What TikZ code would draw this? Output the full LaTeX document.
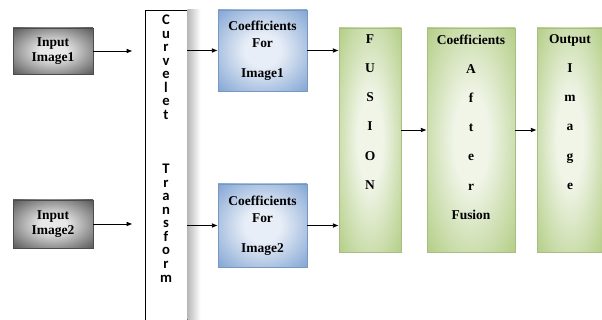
\documentclass[tikz,border=0pt]{standalone}
\usepackage{fontspec}
\setmainfont{Liberation Serif}[BoldFont={Liberation Serif Bold}]
\newfontfamily\boxfont{Liberation Serif Bold}
\newfontfamily\calfont{Carlito Bold}
\usetikzlibrary{arrows.meta,shadows}
\newcommand\pxl{0.03cm}
\definecolor{inedge}{RGB}{95,95,95}
\definecolor{inmid}{RGB}{232,232,232}
\definecolor{bluedge}{RGB}{120,158,208}
\definecolor{bluemid}{RGB}{232,238,247}
\definecolor{greenedge}{RGB}{178,205,132}
\definecolor{greenmid}{RGB}{240,245,232}
% soft fills, light in the middle
\pgfdeclareradialshading{grayfill}{\pgfpointorigin}{color(0bp)=(inmid); color(8bp)=(inmid); color(34bp)=(inedge); color(50bp)=(inedge)}
\pgfdeclareradialshading{bluefill}{\pgfpointorigin}{color(0bp)=(bluemid); color(10bp)=(bluemid); color(38bp)=(bluedge); color(50bp)=(bluedge)}
\pgfdeclareradialshading{greenfill}{\pgfpointorigin}{color(0bp)=(greenmid); color(10bp)=(greenmid); color(36bp)=(greenedge); color(50bp)=(greenedge)}
\tikzset{
  lightshadow/.style={drop shadow={opacity=0.3,shadow xshift=1pt,shadow yshift=-1.2pt}},
  inbox/.style={draw=black!70, shading=grayfill, lightshadow,
    minimum width=80*\pxl, align=center, font=\fontsize{11.5}{12.8}\selectfont\boxfont},
  coefbox/.style={draw=bluedge!80!gray, shading=bluefill, lightshadow,
    minimum width=89*\pxl, align=center, font=\fontsize{11.5}{14.5}\selectfont\boxfont},
  colbox/.style={draw=greenedge!80!gray, shading=greenfill, lightshadow,
    minimum height=224*\pxl},
  coltext/.style={align=center, font=\fontsize{11.5}{24.9}\selectfont\boxfont},
  arr/.style={-{Latex[length=5pt,width=4pt]}, line width=0.7pt}
}
\begin{document}
\begin{tikzpicture}[x=\pxl,y=-\pxl]
    \useasboundingbox (0,0) rectangle (602,320);
    \clip (0,0) rectangle (602,320);
    % the two inputs
    \node[inbox, minimum height=46*\pxl] (in1) at (53,51) {Input\\Image1};
    \node[inbox, minimum height=48*\pxl] (in2) at (53,224) {Input\\Image2};
    % transform column, runs off the bottom
    \node[draw, fill=white, line width=0.8pt, minimum width=42*\pxl, minimum height=312*\pxl] (cvt) at (166,166) {};
    \fill[left color=gray!55, right color=white] (cvt.north east) rectangle ([xshift=0.39cm]cvt.south east);% side shadow
    \node[align=center, font=\fontsize{12.5}{11.57}\selectfont\calfont] (cvtT) at (166,148.5)
        {C\\u\\r\\v\\e\\l\\e\\t\\[34.7pt]T\\r\\a\\n\\s\\f\\o\\r\\m};
    % coefficients of each image
    \node[coefbox, minimum height=81*\pxl] (c1) at (262.5,50.5) {Coefficients\\For\\[11pt]Image1};
    \node[coefbox, minimum height=83*\pxl] (c2) at (262.5,225.5) {Coefficients\\For\\[11pt]Image2};
    % fusion and after
    \node[colbox, minimum width=62*\pxl] (fus) at (370,140) {};
    \node[coltext] (fusT) at (370,112) {F\\U\\S\\I\\O\\N};
    \node[colbox, minimum width=88*\pxl] (aft) at (471,140) {};
    \node[coltext] (aftT) at (471,127) {Coefficients\\A\\f\\t\\e\\r\\Fusion};
    \node[colbox, minimum width=66*\pxl] (out) at (570,140) {};
    \node[coltext] (outT) at (570,112) {Output\\I\\m\\a\\g\\e};
    % arrows
    \draw[arr, shorten >=12*\pxl] (in1) -- (in1 -| cvt.west);
    \draw[arr, shorten >=12*\pxl] (in2) -- (in2 -| cvt.west);
    \draw[arr] (c1.west -| cvt.east) -- (c1.west);
    \draw[arr] (c2.west -| cvt.east) -- (c2.west);
    \draw[arr] (c1) -- (c1 -| fus.west);
    \draw[arr] (c2) -- (c2 -| fus.west);
    \coordinate (lvl) at (0,130);
    \draw[arr] (fus.east |- lvl) -- (aft.west |- lvl);
    \draw[arr] (aft.east |- lvl) -- (out.west |- lvl);
\end{tikzpicture}
\end{document}
